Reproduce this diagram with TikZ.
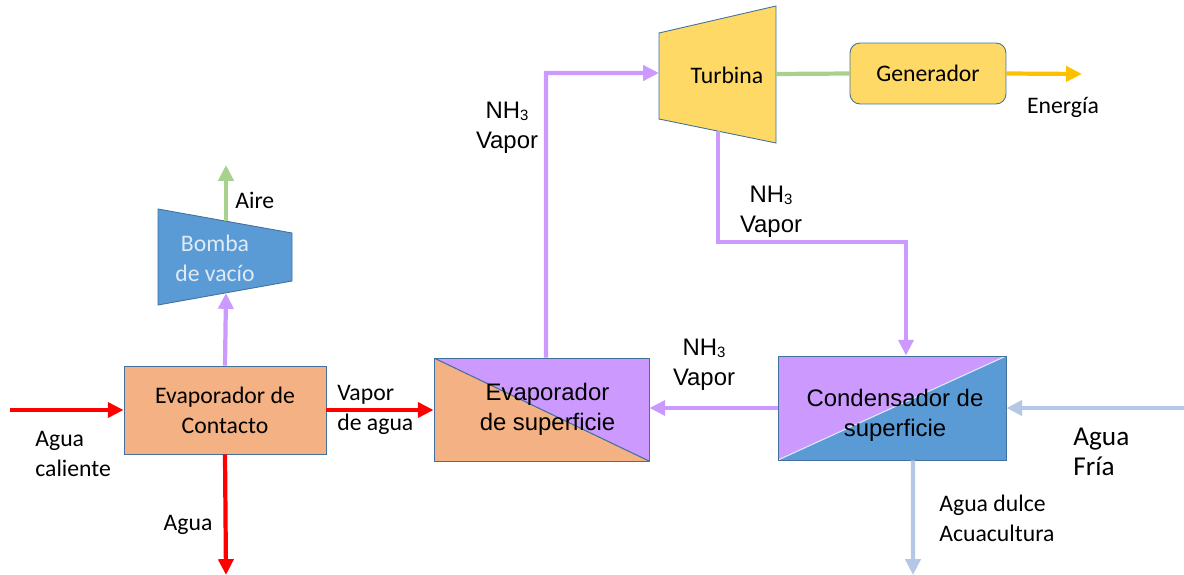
\documentclass[tikz,border=0pt]{standalone}
\usepackage{fontspec}
\setmainfont{Carlito}
\newfontfamily\arial{Liberation Sans}
\usetikzlibrary{arrows.meta,positioning}
\definecolor{naranja}{HTML}{F4B183}
\definecolor{lila}{HTML}{CC99FF}
\definecolor{azul}{HTML}{5B9BD5}
\definecolor{amarillo}{HTML}{FFD966}
\definecolor{oro}{HTML}{FFC000}
\definecolor{verde}{HTML}{A9D18E}
\definecolor{celeste}{HTML}{B4C7E7}
\definecolor{borde}{HTML}{41719C}
\definecolor{rojo}{HTML}{FF0000}
\definecolor{claro}{HTML}{DEEBF7}
\newcommand{\nhtres}{NH\raisebox{-1.2pt}{\fontsize{8.5}{8.5}\selectfont 3}}
\tikzset{
  flujo/.style={line width=2.4pt, -{Triangle[length=9pt,width=8.5pt]}},
  tubo/.style={line width=2.4pt},
  caja/.style={draw=borde, line width=0.5pt, inner sep=0pt, align=center},
  texto/.style={align=left, inner sep=0pt},
  rotulo/.style={align=center, inner sep=0pt, font=\arial\fontsize{13.6}{17}\selectfont},
}

\begin{document}
\begin{tikzpicture}[x=0.02cm, y=-0.02cm, font=\fontsize{13.5}{17}\selectfont]
	%%%%% MARCO %%%%%
	\useasboundingbox (0, 0) rectangle (1184, 575);
	
	%%%%% EQUIPOS %%%%%
	\node[caja, fill=naranja, minimum width=4.04cm, minimum height=1.76cm] (evc) at (225, 410) {Evaporador de\\Contacto};
	
	\node[caja, minimum width=4.3cm, minimum height=2.06cm,
		path picture={
			\fill[naranja] (path picture bounding box.north west) -- (path picture bounding box.south west) -- (path picture bounding box.south east) -- cycle;
			\fill[lila] (path picture bounding box.north west) -- (path picture bounding box.north east) -- (path picture bounding box.south east) -- cycle;
			\draw[borde, line width=0.6pt] (path picture bounding box.north west) -- (path picture bounding box.south east);
		}] (evs) at (541.5, 409.5) {};
	\node[rotulo] at ([xshift=0.12cm]evs.center) {Evaporador\\de superficie};
	
	\node[caja, minimum width=4.56cm, minimum height=2.08cm,
		path picture={
			\fill[azul] (path picture bounding box.south west) -- (path picture bounding box.south east) -- (path picture bounding box.north east) -- cycle;
			\fill[lila] (path picture bounding box.south west) -- (path picture bounding box.north west) -- (path picture bounding box.north east) -- cycle;
			\draw[white!80!azul, line width=0.6pt] (path picture bounding box.south west) -- (path picture bounding box.north east);
		}] (cds) at (892, 408) {};
	\node[rotulo] at ([xshift=0.06cm, yshift=-0.14cm]cds.center) {Condensador de\\superficie};
	
	\node[caja, fill=amarillo, rounded corners=0.2cm, minimum width=3.12cm, minimum height=1.22cm] (gen) at (928, 73.5) {Generador};
	
	% turbina
	\draw[borde, fill=amarillo, line width=0.5pt] (659, 33) -- (776, 6) -- (776, 143) -- (659, 119) -- cycle;
	\node (tur) at (727, 75) {Turbina};
	\coordinate (tin) at (659, 73);
	\coordinate (tout) at (776, 74);
	\coordinate (tbot) at (718, 131);
	
	% bomba de vacio
	\draw[borde, fill=azul, line width=0.5pt] (158, 209) -- (292, 233) -- (292, 281) -- (158, 305) -- cycle;
	\node[align=center, text=claro] (bom) at (215, 258) {Bomba\\de vacío};
	\coordinate (btop) at (226, 221);
	\coordinate (bbot) at (226, 293);
	
	%%%%% PUNTOS LIBRES %%%%%
	\coordinate (ain) at (10, 410);
	\coordinate (aout) at (226, 575);
	\coordinate (aire) at (226, 165);
	\coordinate (ener) at (1082, 74);
	\coordinate (fria) at (1184, 408);
	\coordinate (dulce) at (913, 575);
	\coordinate (codo1) at (546, 73);
	\coordinate (codo2) at (718, 242);
	
	%%%%% FLUJOS %%%%%
	\draw[flujo, rojo] (ain) -- (evc.west);
	\draw[flujo, rojo] (evc.south) -- (aout);
	\draw[flujo, rojo] (evc.east) -- (evc.east -| evs.west);
	\draw[flujo, lila] (evc.north) -- (bbot);
	\draw[flujo, verde] (btop) -- (aire);
	
	\draw[flujo, lila] ([xshift=0.09cm]evs.north) -- (codo1) -- (tin);
	\draw[tubo, verde] (tout) -- (gen.west);
	\draw[flujo, oro] (gen.east) -- (ener);
	\draw[flujo, lila] (tbot) -- (codo2) -| ([xshift=0.28cm]cds.north);
	\draw[flujo, lila] (cds.west) -- (cds.west -| evs.east);
	\draw[flujo, celeste] (fria) -- (cds.east);
	\draw[flujo, celeste] ([xshift=0.42cm]cds.south) -- (dulce);
	
	%%%%% ETIQUETAS %%%%%
	\node[texto, anchor=west] at (35, 454) {Agua\\caliente};
	\node[texto] at (188, 525) {Agua};
	\node[texto, anchor=west] at (235, 200) {Aire};
	\node[texto, anchor=west] at (337, 410) {Vapor\\de agua};
	\node[texto, anchor=west, font=\fontsize{15.5}{17}\selectfont] at (1073, 452) {Agua\\Fría};
	\node[texto, anchor=west] at (939, 518) {Agua dulce\\Acuacultura};
	\node[texto] at (1063, 107) {Energía};
	\node[rotulo] at (507, 128) {\nhtres\\Vapor};
	\node[rotulo] at (771, 212) {\nhtres\\Vapor};
	\node[rotulo] at (704, 365) {\nhtres\\Vapor};
	
\end{tikzpicture}
\end{document}
